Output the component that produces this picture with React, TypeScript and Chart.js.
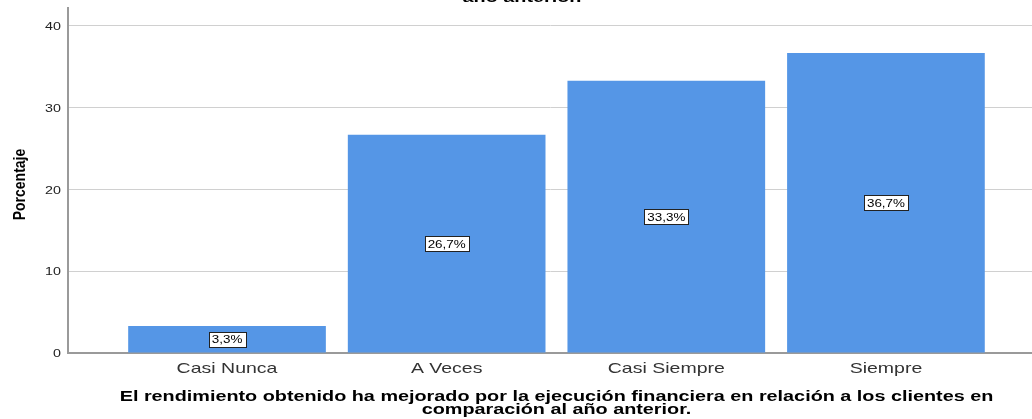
import React, { useEffect, useRef } from "react";
import { Chart, registerables } from "chart.js";

Chart.register(...registerables);

const categories: string[] = ["Casi Nunca", "A Veces", "Casi Siempre", "Siempre"];
const percentages: number[] = [3.3, 26.7, 33.3, 36.7];
const valueLabels: string[] = ["3,3%", "26,7%", "33,3%", "36,7%"];
const yTicks: number[] = [0, 10, 20, 30, 40];
const xTitleLines: string[] = [
  "El rendimiento obtenido ha mejorado por la ejecución financiera en relación a los clientes en",
  "comparación al año anterior.",
];
const topTitleTail = "año anterior.";
const yTitle = "Porcentaje";

const BAR_COLOR = "rgb(85,150,230)";
const SANS = "'Liberation Sans', Arial, sans-serif";
const STRETCH = 1.3;

function stretchedText(
  ctx: CanvasRenderingContext2D,
  text: string,
  x: number,
  y: number,
  font: string,
  align: CanvasTextAlign,
  baseline: CanvasTextBaseline,
  color: string,
  sx: number
) {
  ctx.save();
  ctx.translate(x, y);
  ctx.scale(sx, 1);
  ctx.font = font;
  ctx.textAlign = align;
  ctx.textBaseline = baseline;
  ctx.fillStyle = color;
  ctx.fillText(text, 0, 0);
  ctx.restore();
}

const overlayPlugin = {
  id: "overlay",
  afterDatasetsDraw(chart: any) {
    const ctx = chart.ctx as CanvasRenderingContext2D;
    const meta = chart.getDatasetMeta(0);
    const xs = chart.scales.x;
    const ys = chart.scales.y;
    ctx.save();
    // value labels in boxes
    const lblFont = `11px ${SANS}`;
    ctx.font = lblFont;
    meta.data.forEach((bar: any, i: number) => {
      const cx = bar.x;
      const cy = (bar.y + bar.base) / 2;
      const t = valueLabels[i];
      const w = Math.round(ctx.measureText(t).width * 1.22 + 6);
      const h = 15;
      const bx = Math.round(cx - w / 2) + 0.5;
      const by = Math.round(cy - h / 2) + 0.5;
      ctx.fillStyle = "#fff";
      ctx.fillRect(bx, by, w, h);
      ctx.strokeStyle = "#222";
      ctx.lineWidth = 1;
      ctx.strokeRect(bx, by, w, h);
      stretchedText(ctx, t, cx, cy + 1, lblFont, "center", "middle", "#000", 1.22);
    });
    // y tick labels
    yTicks.forEach((v) => {
      stretchedText(ctx, String(v), 61, ys.getPixelForValue(v) + 1, `11px ${SANS}`, "right", "middle", "#222", STRETCH);
    });
    // x tick labels
    categories.forEach((c, i) => {
      stretchedText(ctx, c, xs.getPixelForValue(i), 373, `15px ${SANS}`, "center", "alphabetic", "#333", STRETCH);
    });
    // x axis title, centred on the bars
    const mid = (xs.getPixelForValue(-0.5) + xs.getPixelForValue(3.5)) / 2;
    const tFont = `bold 15px ${SANS}`;
    stretchedText(ctx, xTitleLines[0], mid, 401, tFont, "center", "alphabetic", "#000", 1.32);
    stretchedText(ctx, xTitleLines[1], mid, 414, tFont, "center", "alphabetic", "#000", 1.32);
    // clipped tail of the chart title
    stretchedText(ctx, topTitleTail, 522, 2, tFont, "center", "alphabetic", "#000", 1.32);
    // y axis title
    ctx.translate(25, (ys.top + ys.bottom) / 2 + 4);
    ctx.rotate(-Math.PI / 2);
    ctx.scale(1, 1.2);
    ctx.font = `bold 14px ${SANS}`;
    ctx.textAlign = "center";
    ctx.textBaseline = "alphabetic";
    ctx.fillStyle = "#000";
    ctx.fillText(yTitle, 0, 0);
    ctx.restore();
  },
};

export default function App() {
  const ref = useRef<HTMLCanvasElement | null>(null);
  useEffect(() => {
    if (!ref.current) return;
    const chart = new Chart(ref.current, {
      type: "bar",
      data: {
        datasets: [
          {
            data: percentages.map((v, i) => ({ x: i, y: v })),
            backgroundColor: BAR_COLOR,
            borderWidth: 0,
            categoryPercentage: 1,
            barPercentage: 0.9,
          },
        ],
      },
      options: {
        animation: false,
        responsive: true,
        maintainAspectRatio: false,
        layout: { padding: { top: 8, right: 0, left: 0, bottom: 0 } },
        plugins: {
          legend: { display: false },
          tooltip: { enabled: false },
        },
        scales: {
          x: {
            type: "linear",
            offset: false,
            min: -0.724,
            max: 3.665,
            afterFit: (s: any) => {
              s.height = 66;
              s.paddingLeft = 0;
              s.paddingRight = 0;
            },
            afterBuildTicks: (s: any) => {
              s.ticks = categories.map((_, i) => ({ value: i }));
            },
            ticks: { display: false },
            grid: { display: false, drawTicks: false },
            border: { display: true, color: "#9a9a9a", width: 2 },
          },
          y: {
            min: 0,
            max: 42.2,
            afterFit: (s: any) => {
              s.width = 68;
              s.paddingTop = 0;
              s.paddingBottom = 0;
            },
            afterBuildTicks: (s: any) => {
              s.ticks = yTicks.map((v) => ({ value: v }));
            },
            ticks: { display: false },
            grid: { color: "#d0d0d0", lineWidth: 1, drawTicks: false },
            border: { display: true, color: "#9a9a9a", width: 2 },
          },
        },
      },
      plugins: [overlayPlugin],
    });
    return () => chart.destroy();
  }, []);
  return (
    <div style={{ position: "fixed", left: 0, top: 0, width: 1032, height: 419, background: "#fff" }}>
      <canvas ref={ref} />
    </div>
  );
}
